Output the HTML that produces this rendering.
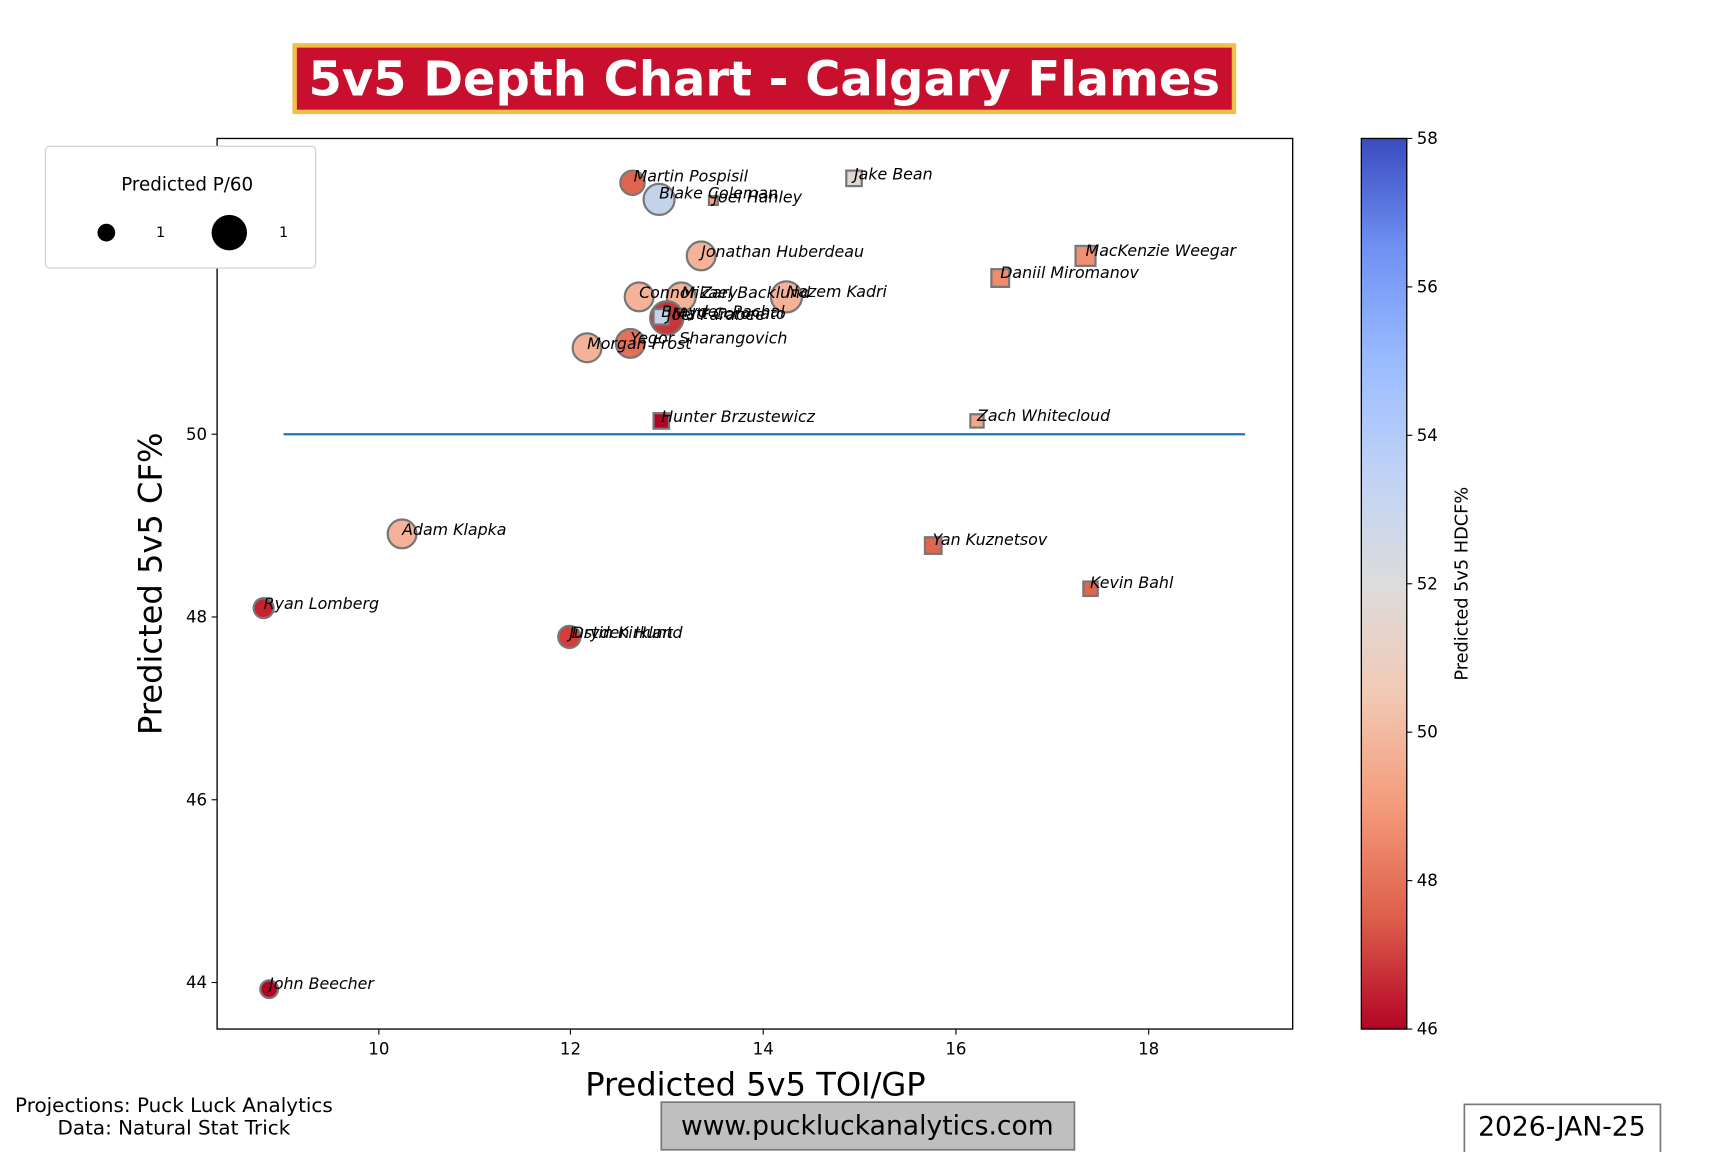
<!DOCTYPE html>
<html><head><meta charset="utf-8"><style>html,body{margin:0;padding:0;background:#fff}svg{display:block}</style></head>
<body>
<svg width="1728" height="1152" viewBox="0 0 1560 1040" xmlns="http://www.w3.org/2000/svg" font-family="'DejaVu Sans','Liberation Sans',sans-serif">
<defs>
<linearGradient id="cw" x1="0" y1="1" x2="0" y2="0">
<stop offset="0" stop-color="#b40426"/>
<stop offset="0.125" stop-color="#dd5f4b"/>
<stop offset="0.25" stop-color="#f49a7b"/>
<stop offset="0.375" stop-color="#f2c9b4"/>
<stop offset="0.5" stop-color="#dddcdc"/>
<stop offset="0.625" stop-color="#bfd3f6"/>
<stop offset="0.75" stop-color="#9abbff"/>
<stop offset="0.875" stop-color="#6f92f3"/>
<stop offset="1" stop-color="#3b4cc0"/>
</linearGradient>
</defs>
<rect x="0" y="0" width="1560" height="1040" fill="#fff"/>
<rect x="266" y="41" width="848" height="60" fill="#C8102E" stroke="#F1BE48" stroke-width="4"/>
<text x="690" y="86" text-anchor="middle" font-size="43.3" font-weight="bold" fill="#fff">5v5 Depth Chart - Calgary Flames</text>
<rect x="196" y="125" width="971" height="804" fill="none" stroke="#000" stroke-width="1.2"/>
<g font-size="15" fill="#000" text-anchor="middle">
<line x1="342" y1="929" x2="342" y2="934" stroke="#000"/><text x="342" y="952">10</text>
<line x1="515" y1="929" x2="515" y2="934" stroke="#000"/><text x="515" y="952">12</text>
<line x1="689" y1="929" x2="689" y2="934" stroke="#000"/><text x="689" y="952">14</text>
<line x1="863" y1="929" x2="863" y2="934" stroke="#000"/><text x="863" y="952">16</text>
<line x1="1037" y1="929" x2="1037" y2="934" stroke="#000"/><text x="1037" y="952">18</text>
</g>
<g font-size="15" fill="#000" text-anchor="end">
<line x1="191" y1="227" x2="196" y2="227" stroke="#000"/><text x="187" y="232">52</text>
<line x1="191" y1="392" x2="196" y2="392" stroke="#000"/><text x="187" y="397">50</text>
<line x1="191" y1="557" x2="196" y2="557" stroke="#000"/><text x="187" y="562">48</text>
<line x1="191" y1="722" x2="196" y2="722" stroke="#000"/><text x="187" y="727">46</text>
<line x1="191" y1="887" x2="196" y2="887" stroke="#000"/><text x="187" y="892">44</text>
</g>
<text x="682" y="989" text-anchor="middle" font-size="29">Predicted 5v5 TOI/GP</text>
<text transform="translate(146,527) rotate(-90)" text-anchor="middle" font-size="29">Predicted 5v5 CF%</text>
<line x1="256" y1="392" x2="1124" y2="392" stroke="#1f77b4" stroke-width="2"/>
<g stroke="#777" stroke-width="2">
<circle cx="571" cy="165" r="11" fill="#e0654f"/>
<circle cx="595" cy="180" r="14" fill="#c5d3ea"/>
<rect x="640" y="177" width="8" height="8" fill="#f4a88a"/>
<rect x="764" y="154" width="14" height="14" fill="#e1d7d2"/>
<circle cx="633" cy="231" r="13" fill="#f4b399"/>
<rect x="971" y="222" width="18" height="18" fill="#f08f72"/>
<rect x="895" y="243" width="16" height="16" fill="#f08b6e"/>
<circle cx="577" cy="268" r="13" fill="#f4b399"/>
<circle cx="615" cy="268" r="13" fill="#f4b399"/>
<circle cx="710" cy="268" r="14" fill="#f4b399"/>
<circle cx="602" cy="287" r="15" fill="#c83737"/>
<rect x="590" y="279" width="14" height="14" fill="#c5d3ea"/>
<circle cx="569" cy="310" r="13" fill="#e57058"/>
<circle cx="530" cy="314" r="13" fill="#f4b399"/>
<rect x="590" y="373" width="14" height="14" fill="#b40426"/>
<rect x="876" y="374" width="12" height="12" fill="#f4a88a"/>
<circle cx="363" cy="482" r="13" fill="#f4b399"/>
<rect x="835" y="485" width="15" height="15" fill="#e0654f"/>
<rect x="978" y="525" width="13" height="13" fill="#e0654f"/>
<circle cx="238" cy="549" r="9" fill="#c8202e"/>
<circle cx="514" cy="575" r="10" fill="#d43d3a"/>
<circle cx="243" cy="893" r="8" fill="#b40426"/>
</g>
<g font-size="14.3" font-style="italic" fill="#000">
<text x="572" y="164">Martin Pospisil</text>
<text x="595" y="179">Blake Coleman</text>
<text x="644" y="183">Joel Hanley</text>
<text x="771" y="162">Jake Bean</text>
<text x="633" y="232">Jonathan Huberdeau</text>
<text x="980" y="231">MacKenzie Weegar</text>
<text x="903" y="251">Daniil Miromanov</text>
<text x="577" y="269">Connor Zary</text>
<text x="615" y="269">Mikael Backlund</text>
<text x="710" y="268">Nazem Kadri</text>
<text x="597" y="286">Brayden Pachal</text>
<text x="602" y="289">Joel Farabee</text>
<text x="607" y="288">Matt Coronato</text>
<text x="569" y="310">Yegor Sharangovich</text>
<text x="530" y="315">Morgan Frost</text>
<text x="597" y="381">Hunter Brzustewicz</text>
<text x="882" y="380">Zach Whitecloud</text>
<text x="363" y="483">Adam Klapka</text>
<text x="842" y="492">Yan Kuznetsov</text>
<text x="984" y="531">Kevin Bahl</text>
<text x="238" y="550">Ryan Lomberg</text>
<text x="514" y="576">Justin Kirkland</text>
<text x="516" y="576">Dryden Hunt</text>
<text x="243" y="893">John Beecher</text>
</g>
<rect x="41" y="132" width="244" height="110" rx="4" fill="#fff" stroke="#ccc"/>
<text x="169" y="172" text-anchor="middle" font-size="16.5">Predicted P/60</text>
<circle cx="96" cy="210" r="8" fill="#000"/>
<text x="145" y="214" text-anchor="middle" font-size="13">1</text>
<circle cx="207" cy="210" r="16" fill="#000"/>
<text x="256" y="214" text-anchor="middle" font-size="13">1</text>
<rect x="1229" y="125" width="41" height="804" fill="url(#cw)" stroke="#000" stroke-width="1.2"/>
<g font-size="15" fill="#000">
<line x1="1270" y1="929" x2="1275" y2="929" stroke="#000"/><text x="1279" y="934">46</text>
<line x1="1270" y1="795" x2="1275" y2="795" stroke="#000"/><text x="1279" y="800">48</text>
<line x1="1270" y1="661" x2="1275" y2="661" stroke="#000"/><text x="1279" y="666">50</text>
<line x1="1270" y1="527" x2="1275" y2="527" stroke="#000"/><text x="1279" y="532">52</text>
<line x1="1270" y1="393" x2="1275" y2="393" stroke="#000"/><text x="1279" y="398">54</text>
<line x1="1270" y1="259" x2="1275" y2="259" stroke="#000"/><text x="1279" y="264">56</text>
<line x1="1270" y1="125" x2="1275" y2="125" stroke="#000"/><text x="1279" y="130">58</text>
</g>
<text transform="translate(1325,527) rotate(-90)" text-anchor="middle" font-size="16">Predicted 5v5 HDCF%</text>
<text x="157" y="1004" text-anchor="middle" font-size="18">Projections: Puck Luck Analytics</text>
<text x="157" y="1024" text-anchor="middle" font-size="18">Data: Natural Stat Trick</text>
<rect x="597" y="995" width="373" height="43" fill="#bfbfbf" stroke="#777" stroke-width="1.5"/>
<text x="783" y="1024" text-anchor="middle" font-size="24">www.puckluckanalytics.com</text>
<rect x="1322" y="997" width="177" height="46" fill="#fff" stroke="#777" stroke-width="1.5"/>
<text x="1410" y="1025" text-anchor="middle" font-size="24">2026-JAN-25</text>
</svg>
</body></html>
